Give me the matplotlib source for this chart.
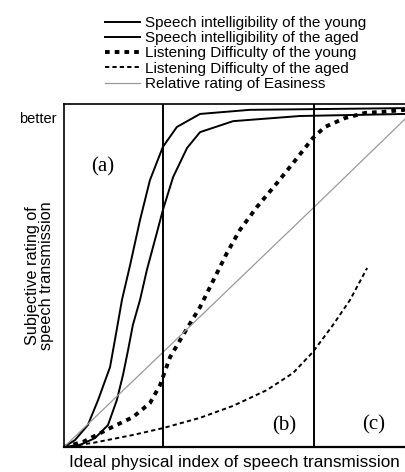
import matplotlib
matplotlib.use("Agg")
import matplotlib.pyplot as plt

plt.rcParams.update({
    "font.family": ["Liberation Sans", "DejaVu Sans"],
    "font.size": 10,
})

# =========================
# data (axis units 0-100)
# =========================
si_young_x = [0, 3.2, 7.0, 10.0, 13.5, 15.2, 17.0, 19.4, 22.3, 25.2, 29.0, 33.1, 39.9, 54.5, 100]
si_young_y = [0, 2.0, 6.4, 13.7, 23.3, 32.7, 42.9, 53.1, 66.2, 77.8, 87.5, 93.3, 97.1, 98.3, 98.8]

si_aged_x = [0, 4.7, 9.1, 12.9, 15.5, 17.3, 18.8, 20.2, 22.3, 24.3, 27.3, 29.0, 32.0, 36.1, 39.9, 49.6, 69.2, 100]
si_aged_y = [0, 0.6, 2.6, 6.4, 13.7, 21.0, 28.3, 35.6, 42.9, 51.6, 62.7, 69.1, 78.7, 87.2, 91.8, 95.0, 96.5, 97.1]

ld_young_x = [0, 5.6, 13.5, 20.2, 25.2, 28.2, 29.0, 31.1, 36.1, 39.9, 43.7, 47.8, 51.6, 56.6,
              62.5, 67.2, 73.0, 76.5, 82.4, 88.3, 93.3, 100]
ld_young_y = [0, 1.5, 5.5, 8.7, 12.8, 18.1, 20.4, 26.2, 34.6, 40.8, 48.4, 56.6, 63.3, 70.0,
              77.0, 82.8, 90.1, 93.3, 95.9, 97.4, 97.7, 98.3]

ld_aged_x = [0, 8.5, 20.2, 29.0, 39.9, 49.6, 59.5, 67.2, 73.0, 78.9, 83.9, 88.9]
ld_aged_y = [0, 1.2, 3.5, 5.5, 8.5, 12.0, 16.6, 21.6, 27.7, 35.6, 42.9, 52.2]

easy_x = [0, 29.0, 73.3, 100]
easy_y = [0, 27.6, 69.9, 95.6]

region_bounds = [29.0, 73.3]
region_labels = ["(a)", "(b)", "(c)"]
region_pos = [(11.4, 81.6), (64.5, 6.1), (90.9, 6.4)]

legend_labels = [
    "Speech intelligibility of the young",
    "Speech intelligibility of the aged",
    "Listening Difficulty of the young",
    "Listening Difficulty of the aged",
    "Relative rating of Easiness",
]

# =========================
# figure
# =========================
fig = plt.figure(figsize=(4.05, 4.72), dpi=100)
ax = fig.add_axes([64 / 405, 25 / 472, 341 / 405, 343 / 472])

h1, = ax.plot(si_young_x, si_young_y, color="k", lw=1.4)
h2, = ax.plot(si_aged_x, si_aged_y, color="k", lw=1.4)
h3, = ax.plot(ld_young_x, ld_young_y, color="k", lw=2.8, linestyle=(0, (1.2, 1.3)))
h4, = ax.plot(ld_aged_x, ld_aged_y, color="k", lw=1.4, linestyle=(0, (2.2, 1.6)))
h5, = ax.plot(easy_x, easy_y, color="#999999", lw=0.9)

for xb in region_bounds:
    ax.axvline(xb, color="k", lw=1.4)

for lab, (tx, ty) in zip(region_labels, region_pos):
    ax.text(tx, ty, lab, family=["Liberation Serif", "DejaVu Serif"], fontsize=15,
            ha="center", va="center")

ax.set_xlim(0, 100)
ax.set_ylim(0, 100)
ax.set_xticks([])
ax.set_yticks([])
ax.spines["right"].set_visible(False)
for s in ["left", "top"]:
    ax.spines[s].set_linewidth(1.2)
ax.spines["bottom"].set_linewidth(1.6)

ax.set_xlabel("Ideal physical index of speech transmission", fontsize=12.3, labelpad=6)
ax.set_ylabel("Subjective rating of\nspeech transmission", fontsize=11.7, labelpad=7,
              linespacing=0.95)

fig.text(57 / 405, 1 - 119 / 472, "better", ha="right", va="center", fontsize=10.5)

fig.legend([h1, h2, h3, h4, h5], legend_labels,
           loc="upper left", bbox_to_anchor=(105 / 405, 1 - 16 / 472),
           frameon=False, fontsize=11, handlelength=2.3, handletextpad=0.33,
           labelspacing=0.08, borderpad=0, borderaxespad=0)

fig.savefig("out.png", dpi=100)
